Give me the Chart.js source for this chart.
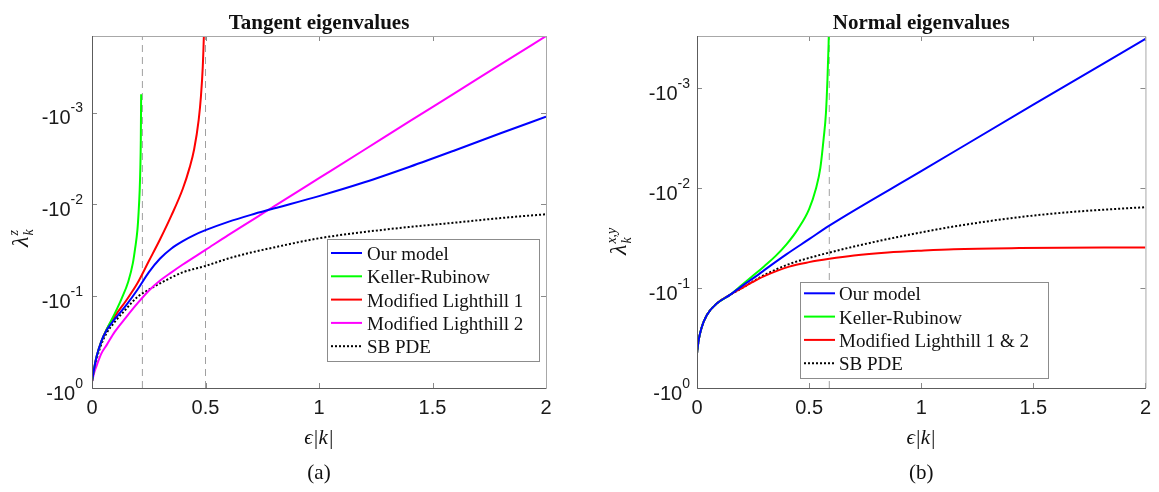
<!DOCTYPE html>
<html lang="en">
<head>
    <meta charset="UTF-8">
    <title>Tangent and normal eigenvalues</title>
    <script src="https://cdn.jsdelivr.net/npm/chart.js"></script>
    <style>
        body { margin: 0; background: #fff; }
        .panel { position: absolute; top: 0; height: 492px; }
        .legend-label {
            position: absolute;
            font-family: "Liberation Serif", serif;
            font-size: 19px;
            line-height: 20px;
            color: #111;
            white-space: nowrap;
            transform: translateY(-50%);
        }
    </style>
</head>
<body>
    <div class="panel" id="tangentPanel" style="left:0;width:580px"><canvas id="tangentChart"></canvas></div>
    <div class="panel" id="normalPanel" style="left:580px;width:579px"><canvas id="normalChart"></canvas></div>

<script>
// tick labels
const xTicks = [0, 0.5, 1, 1.5, 2];
const yTickExponents = [-3, -2, -1, 0];   // labels read "-10^n"

// (a) tangent eigenvalues, lambda_k^z against eps|k|
const tanOurX = [0, 0.01, 0.02, 0.04, 0.065, 0.1, 0.15, 0.2, 0.25, 0.3, 0.35, 0.4, 0.45, 0.5, 0.6, 0.7, 0.8, 1.0, 1.2, 1.4, 1.6, 1.8, 2.0];
const tanOurY = [-0.851, -0.603, -0.457, -0.316, -0.234, -0.178, -0.126, -0.0851, -0.0550, -0.0389, -0.0302, -0.0251, -0.0216, -0.0191, -0.0155, -0.0130, -0.0111, -0.00813, -0.00575, -0.00389, -0.00257, -0.00168, -0.00111];

const tanKellerX = [0, 0.01, 0.02, 0.04, 0.065, 0.1, 0.13, 0.16, 0.18, 0.19, 0.2, 0.205, 0.21, 0.213, 0.215, 0.2165];
const tanKellerY = [-0.851, -0.603, -0.457, -0.316, -0.229, -0.155, -0.107, -0.0692, -0.0437, -0.0302, -0.0191, -0.0126, -0.00708, -0.00398, -0.00200, -0.000631];

const tanLight1X = [0, 0.01, 0.02, 0.04, 0.065, 0.1, 0.15, 0.2, 0.25, 0.3, 0.35, 0.4, 0.43, 0.45, 0.47, 0.48, 0.488, 0.493, 0.497];
const tanLight1Y = [-0.851, -0.603, -0.457, -0.316, -0.229, -0.166, -0.112, -0.0724, -0.0417, -0.0240, -0.0132, -0.00676, -0.00398, -0.00251, -0.00120, -0.000661, -0.000316, -0.000141, -0.0000501];

const tanLight2X = [0, 0.01, 0.02, 0.04, 0.065, 0.1, 0.15, 0.2, 0.25, 0.3, 0.35, 0.4, 0.5, 0.6, 0.8, 1.0, 1.2, 1.4, 1.6, 1.8, 2.0];
const tanLight2Y = [-0.851, -0.676, -0.575, -0.427, -0.339, -0.245, -0.170, -0.120, -0.0871, -0.0676, -0.0550, -0.0452, -0.0313, -0.0216, -0.0106, -0.00519, -0.00254, -0.00124, -0.000610, -0.000299, -0.000147];

const tanSbX = [0, 0.01, 0.02, 0.04, 0.065, 0.1, 0.15, 0.2, 0.25, 0.3, 0.4, 0.5, 0.6, 0.7, 0.8, 1.0, 1.2, 1.4, 1.6, 1.8, 2.0];
const tanSbY = [-0.851, -0.631, -0.490, -0.339, -0.251, -0.191, -0.138, -0.102, -0.0851, -0.0724, -0.0550, -0.0468, -0.0389, -0.0335, -0.0295, -0.0234, -0.0200, -0.0176, -0.0158, -0.0141, -0.0128];

const tanMarkers = [0.222, 0.5];   // dashed singularity lines

// (b) normal eigenvalues, lambda_k^{x,y} against eps|k|
const norOurX = [0, 0.0075, 0.02, 0.044, 0.088, 0.147, 0.2, 0.264, 0.3, 0.4, 0.5, 0.59, 1.0, 1.5, 2.0];
const norOurY = [-0.449, -0.331, -0.251, -0.186, -0.143, -0.117, -0.0955, -0.0759, -0.0661, -0.0457, -0.0324, -0.0237, -0.00676, -0.00146, -0.000321];

const norKellerX = [0, 0.0075, 0.02, 0.044, 0.088, 0.147, 0.2, 0.264, 0.3, 0.35, 0.4, 0.45, 0.5, 0.53, 0.55, 0.565, 0.575, 0.582, 0.587, 0.592];
const norKellerY = [-0.449, -0.331, -0.251, -0.186, -0.143, -0.117, -0.0933, -0.0708, -0.0603, -0.0479, -0.0363, -0.0257, -0.0162, -0.0102, -0.00631, -0.00316, -0.00178, -0.000794, -0.000355, -0.0001];

const norLightX = [0, 0.0075, 0.02, 0.044, 0.088, 0.147, 0.2, 0.264, 0.3, 0.411, 0.5, 0.59, 0.7, 0.851, 1.0, 1.145, 1.438, 2.0];
const norLightY = [-0.449, -0.331, -0.251, -0.186, -0.143, -0.117, -0.1, -0.0832, -0.0759, -0.0610, -0.0550, -0.0509, -0.0472, -0.0441, -0.0422, -0.0408, -0.0398, -0.0392];

const norSbX = [0, 0.0075, 0.02, 0.044, 0.088, 0.147, 0.2, 0.264, 0.3, 0.411, 0.5, 0.59, 0.7, 0.851, 1.0, 1.145, 1.438, 1.7, 2.0];
const norSbY = [-0.449, -0.331, -0.251, -0.186, -0.143, -0.117, -0.1, -0.0822, -0.0741, -0.0575, -0.0499, -0.0441, -0.0384, -0.0323, -0.0277, -0.0242, -0.0195, -0.0171, -0.0155];

const norMarkers = [0.59];

const SANS = '"Liberation Sans", Arial, sans-serif';
const SERIF = '"Liberation Serif", serif';

// eigenvalues are negative; the log axis shows their magnitude, labelled with a minus
function points(xs, lam) {
    return xs.map((x, i) => ({ x: x, y: Math.abs(lam[i]) }));
}

function curve(label, xs, lam, color, dash) {
    return {
        label: label,
        data: points(xs, lam),
        borderColor: color,
        borderWidth: 2,
        borderDash: dash || [],
        pointRadius: 0,
        cubicInterpolationMode: 'monotone',
        fill: false
    };
}

function marker(xv) {
    return {
        label: '',
        data: [{ x: xv, y: 1 }, { x: xv, y: 1e-6 }],
        borderColor: '#a0a0a0',
        borderWidth: 1,
        borderDash: [7, 5],
        pointRadius: 0
    };
}

// frame, ticks, log tick labels, titles and legend box, drawn in MATLAB style
const panelDecor = {
    id: 'panelDecor',
    afterDatasetsDraw(chart, args, o) {
        const ctx = chart.ctx, a = chart.chartArea, xs = chart.scales.x, ys = chart.scales.y;
        ctx.save();

        // inward tick marks
        ctx.strokeStyle = '#8a8a8a';
        ctx.lineWidth = 1;
        ctx.beginPath();
        yTickExponents.forEach(e => {
            const py = Math.round(ys.getPixelForValue(Math.pow(10, e))) + 0.5;
            ctx.moveTo(a.left, py); ctx.lineTo(a.left + 5, py);
            ctx.moveTo(a.right, py); ctx.lineTo(a.right - 5, py);
        });
        xTicks.forEach(t => {
            const px = Math.round(xs.getPixelForValue(t)) + 0.5;
            ctx.moveTo(px, a.bottom); ctx.lineTo(px, a.bottom - 5);
            ctx.moveTo(px, a.top); ctx.lineTo(px, a.top + 5);
        });
        ctx.stroke();

        // box
        ctx.strokeStyle = '#a8a8a8';
        ctx.beginPath();
        ctx.moveTo(a.left, a.top + 0.5); ctx.lineTo(a.right + 0.5, a.top + 0.5); ctx.lineTo(a.right + 0.5, a.bottom);
        ctx.stroke();
        ctx.strokeStyle = '#5c5c5c';
        ctx.beginPath();
        ctx.moveTo(a.left + 0.5, a.top); ctx.lineTo(a.left + 0.5, a.bottom + 0.5); ctx.lineTo(a.right + 0.5, a.bottom + 0.5);
        ctx.stroke();

        // legend box and line samples (labels are html, see below)
        const L = o.legend;
        ctx.fillStyle = '#fff';
        ctx.fillRect(L.x, L.y, L.w, L.h);
        ctx.strokeStyle = '#8c8c8c';
        ctx.lineWidth = 1;
        ctx.strokeRect(L.x + 0.5, L.y + 0.5, L.w, L.h);
        chart.data.datasets.filter(d => d.label).forEach((d, i) => {
            const ry = L.first + i * L.step;
            ctx.strokeStyle = d.borderColor;
            ctx.lineWidth = d.borderWidth;
            ctx.setLineDash(d.borderDash);
            ctx.beginPath();
            ctx.moveTo(L.x + 4, ry); ctx.lineTo(L.x + 35, ry);
            ctx.stroke();
        });
        ctx.setLineDash([]);
        ctx.restore();
    },
    afterDraw(chart, args, o) {
        const ctx = chart.ctx, a = chart.chartArea, ys = chart.scales.y;
        const cx = (a.left + a.right) / 2;
        ctx.save();
        ctx.fillStyle = '#111';
        ctx.textAlign = 'center';
        ctx.textBaseline = 'alphabetic';
        ctx.font = 'bold 21px ' + SERIF;
        ctx.fillText(o.title, cx, 29);
        ctx.font = 'italic 21px ' + SERIF;
        ctx.fillText('\u03F5|k|', cx, 444);
        ctx.font = '21px ' + SERIF;
        ctx.fillText(o.tag, cx, 479);

        // y tick labels "-10^n"
        ctx.textAlign = 'left';
        ctx.textBaseline = 'middle';
        ctx.fillStyle = '#1a1a1a';
        yTickExponents.forEach(e => {
            const py = ys.getPixelForValue(Math.pow(10, e));
            const sup = String(e);
            ctx.font = '14px ' + SANS;
            const ew = ctx.measureText(sup).width;
            ctx.font = '20px ' + SANS;
            const bw = ctx.measureText('-10').width;
            const right = a.left - o.labelGap;
            ctx.fillText('-10', right - ew - bw, py + 6);
            ctx.font = '14px ' + SANS;
            ctx.fillText(sup, right - ew, py - 4);
        });

        // rotated y title: lambda with subscript k and superscript
        ctx.fillStyle = '#111';
        ctx.textBaseline = 'alphabetic';
        ctx.translate(o.yTitle.x, o.yTitle.y);
        ctx.rotate(-Math.PI / 2);
        ctx.font = 'italic 24px ' + SERIF;
        ctx.fillText('\u03BB', 0, 0);
        const w = ctx.measureText('\u03BB').width;
        ctx.font = 'italic 14px ' + SERIF;
        ctx.fillText(o.yTitle.sup, w + 1, -10);
        ctx.fillText('k', w + 1, 5);
        ctx.restore();
    }
};

function buildOptions(yMin, pad, yWidth, decor) {
    return {
        responsive: true,
        maintainAspectRatio: false,
        animation: false,
        devicePixelRatio: 1,
        layout: { padding: pad },
        plugins: {
            legend: { display: false },
            title: { display: false },
            tooltip: { enabled: false },
            panelDecor: decor
        },
        scales: {
            x: {
                type: 'linear',
                min: 0,
                max: 2,
                afterBuildTicks: axis => { axis.ticks = xTicks.map(v => ({ value: v })); },
                afterFit: axis => { axis.height = 60; },
                grid: { display: false, drawTicks: false },
                border: { display: false },
                ticks: {
                    padding: 8,
                    color: '#1a1a1a',
                    font: { family: SANS, size: 20 },
                    maxRotation: 0,
                    callback: v => String(v)
                }
            },
            y: {
                type: 'logarithmic',
                reverse: true,
                min: yMin,
                max: 1,
                afterFit: axis => { axis.width = yWidth; },
                grid: { display: false, drawTicks: false },
                border: { display: false },
                ticks: { display: false }
            }
        }
    };
}

// legend labels as html text next to the canvas line samples
function addLegendLabels(chart, panelId) {
    const L = chart.options.plugins.panelDecor.legend;
    const panel = document.getElementById(panelId);
    chart.data.datasets.filter(d => d.label).forEach((d, i) => {
        const el = document.createElement('div');
        el.className = 'legend-label';
        el.textContent = d.label;
        el.style.left = (L.x + L.text) + 'px';
        el.style.top = (L.first + i * L.step + 1) + 'px';
        panel.appendChild(el);
    });
}

const tangentChart = new Chart(document.getElementById('tangentChart'), {
    type: 'line',
    data: {
        datasets: [
            curve('Our model', tanOurX, tanOurY, '#0000ff'),
            curve('Keller-Rubinow', tanKellerX, tanKellerY, '#00ff00'),
            curve('Modified Lighthill 1', tanLight1X, tanLight1Y, '#ff0000'),
            curve('Modified Lighthill 2', tanLight2X, tanLight2Y, '#ff00ff'),
            curve('SB PDE', tanSbX, tanSbY, '#000000', [2, 2])
        ].concat(tanMarkers.map(marker))
    },
    options: buildOptions(1.466e-4, { left: 0, top: 36, right: 34, bottom: 44 }, 92, {
        title: 'Tangent eigenvalues',
        tag: '(a)',
        labelGap: 9,
        yTitle: { x: 28, y: 247, sup: 'z' },
        legend: { x: 327, y: 239, w: 212, h: 122, first: 253, step: 23.3, text: 40 }
    }),
    plugins: [panelDecor]
});

const normalChart = new Chart(document.getElementById('normalChart'), {
    type: 'line',
    data: {
        datasets: [
            curve('Our model', norOurX, norOurY, '#0000ff'),
            curve('Keller-Rubinow', norKellerX, norKellerY, '#00ff00'),
            curve('Modified Lighthill 1 & 2', norLightX, norLightY, '#ff0000'),
            curve('SB PDE', norSbX, norSbY, '#000000', [2, 2])
        ].concat(norMarkers.map(marker))
    },
    options: buildOptions(3.162e-4, { left: 0, top: 36, right: 8, bottom: 44 }, 117, {
        title: 'Normal eigenvalues',
        tag: '(b)',
        labelGap: 7,
        yTitle: { x: 46, y: 255, sup: 'x,y' },
        legend: { x: 220, y: 282, w: 248, h: 96, first: 293.3, step: 23.3, text: 39 }
    }),
    plugins: [panelDecor]
});

addLegendLabels(tangentChart, 'tangentPanel');
addLegendLabels(normalChart, 'normalPanel');
</script>
</body>
</html>
